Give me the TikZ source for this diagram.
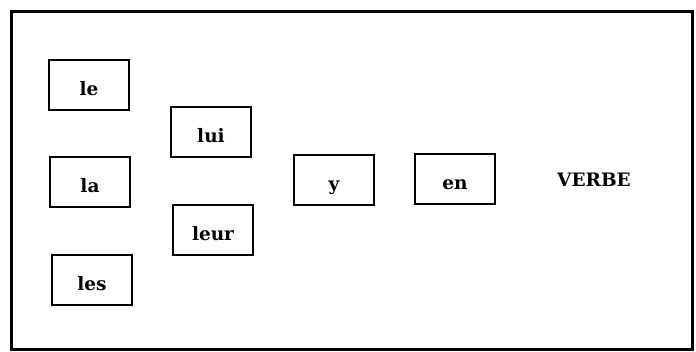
\documentclass[tikz,border=0pt]{standalone}
\usepackage{fontspec}
\setmainfont{DejaVu Serif}
\usepackage{tikz}
\usetikzlibrary{calc, shapes}

\begin{document}
\begin{tikzpicture}[x=1pt,y=-1pt]
\tikzstyle{pron}=[draw,line width=2.2pt,minimum width=80pt,minimum height=50pt,inner sep=2pt,text height=24pt,text depth=2pt,font=\fontsize{18.5}{22}\selectfont\bfseries]
\tikzstyle{verb}=[inner sep=2pt,font=\fontsize{18.5}{22}\selectfont\bfseries]
\useasboundingbox (0,0) rectangle (696,352);
\draw[line width=3pt] (11,12) rectangle (692,350);
\node[pron] (P_le) at (89,85) {le};
\node[pron] (P_la) at (90,182) {la};
\node[pron] (P_les) at (92,280) {les};
\node[pron] (P_lui) at (211,132) {lui};
\node[pron] (P_leur) at (213,230) {leur};
\node[pron] (P_y) at (334,180) {y};
\node[pron] (P_en) at (455,179) {en};
\node[verb] (V) at (594,180) {VERBE};
\end{tikzpicture}
\end{document}
